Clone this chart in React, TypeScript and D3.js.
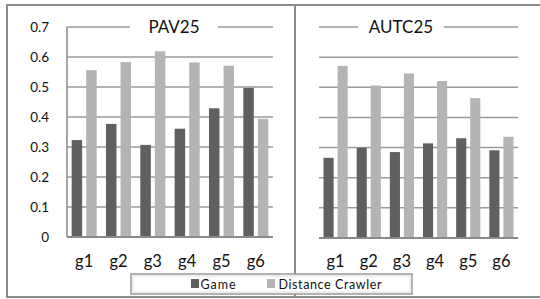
import * as d3 from "d3";

// ── Data ──────────────────────────────────────────────────────────────────────

const GROUPS = ["g1", "g2", "g3", "g4", "g5", "g6"];
const SERIES = ["Game", "Distance Crawler"];
const PAV_GAME    = [0.323, 0.377, 0.307, 0.361, 0.429, 0.497];
const PAV_CRAWLER = [0.556, 0.583, 0.619, 0.582, 0.571, 0.394];
const AUTC_GAME    = [0.266, 0.299, 0.285, 0.314, 0.331, 0.291];
const AUTC_CRAWLER = [0.571, 0.506, 0.546, 0.521, 0.464, 0.336];
const Y_TICKS = [0, 0.1, 0.2, 0.3, 0.4, 0.5, 0.6, 0.7];

// ── Tokens ────────────────────────────────────────────────────────────────────

const DARK  = "#606060";
const LIGHT = "#b4b4b4";
const GRID  = "#9a9a9a";
const FRAME = "#8a8a8a";
const FG    = "#111";
const FONT  = "Lato, 'Open Sans', sans-serif";

const W = 540, H = 299;

type PanelProps = {
  title: string;
  titleX: number;
  gapW: number;
  game: number[];
  crawler: number[];
  x0: number; x1: number;
  y0: number; y1: number;
  showY: boolean;
};

function Panel({ title, titleX, gapW, game, crawler, x0, x1, y0, y1, showY }: PanelProps) {
  const x = d3.scaleBand<string>().domain(GROUPS).range([x0, x1]).padding(0);
  const xs = d3.scaleBand<string>()
    .domain(SERIES)
    .range([0, x.bandwidth()])
    .paddingInner(0.28)
    .paddingOuter(0.32);
  const y = d3.scaleLinear().domain([0, 0.7]).range([y0, y1]);

  const rows = GROUPS.map((g, i) => ({ g, vals: [game[i], crawler[i]] }));

  return (
    <g>
      {/* grid */}
      {Y_TICKS.filter(t => t > 0).map(t => (
        <line key={t} x1={x0} x2={x1} y1={y(t)} y2={y(t)} stroke={GRID} strokeWidth={1.5} />
      ))}
      {/* title with white gap on the top line */}
      <rect x={titleX - gapW / 2} y={y(0.7) - 8} width={gapW} height={16} fill="#fff" />
      <text x={titleX} y={y(0.7) + 6} textAnchor="middle" fontSize={17} fill={FG} fontFamily={FONT}>
        {title}
      </text>
      {/* bars */}
      {rows.map(r => r.vals.map((v, j) => (
        <rect
          key={r.g + j}
          x={x(r.g)! + xs(SERIES[j])!}
          y={y(v)}
          width={xs.bandwidth()}
          height={y(0) - y(v)}
          fill={j === 0 ? DARK : LIGHT}
        />
      )))}
      {/* baseline + y axis */}
      <line x1={x0} x2={x1} y1={y(0)} y2={y(0)} stroke={FRAME} strokeWidth={2} />
      {showY && <line x1={x0} x2={x0} y1={y(0.7)} y2={y(0)} stroke={FRAME} strokeWidth={1.5} />}
      {showY && Y_TICKS.map(t => (
        <text key={t} x={x0 - 18} y={y(t) + 5} textAnchor="end" fontSize={13.5} fill={FG} fontFamily={FONT}>
          {d3.format("")(+t.toFixed(1))}
        </text>
      ))}
      {/* x labels */}
      {GROUPS.map(g => (
        <text key={g} x={x(g)! + x.bandwidth() / 2} y={267} textAnchor="middle" fontSize={16.5} fill={FG} fontFamily={FONT}>
          {g}
        </text>
      ))}
    </g>
  );
}

export default function App() {
  return (
    <svg width={W} height={H} style={{ position: "absolute", left: 0, top: 0, background: "#fff" }}>
      <rect x={7} y={5} width={W} height={292} fill="#fff" stroke={FRAME} strokeWidth={2} />
      <line x1={295} x2={295} y1={5} y2={297} stroke={FRAME} strokeWidth={2} />

      <Panel title="PAV25" titleX={174} gapW={88} game={PAV_GAME} crawler={PAV_CRAWLER}
        x0={67} x1={273} y0={237} y1={27} showY />
      <Panel title="AUTC25" titleX={401} gapW={86} game={AUTC_GAME} crawler={AUTC_CRAWLER}
        x0={319} x1={518} y0={238} y1={27} showY={false} />

      {/* legend */}
      <g fontFamily={FONT} fontSize={12.5} fill={FG}>
        <rect x={131} y={274} width={281} height={20} fill="#fff" stroke="#999" strokeWidth={1.5} />
        <rect x={133} y={276} width={277} height={16} fill="none" stroke="#ddd" strokeWidth={1} />
        {SERIES.map((s, i) => {
          const lx = i === 0 ? 191 : 267;
          return (
            <g key={s}>
              <rect x={lx} y={279} width={8} height={9} fill={i === 0 ? DARK : LIGHT} />
              <text x={lx + (i === 0 ? 9.5 : 11.5)} y={288.5} textLength={i === 0 ? 35 : 103} lengthAdjust="spacing">{s}</text>
            </g>
          );
        })}
      </g>
    </svg>
  );
}
